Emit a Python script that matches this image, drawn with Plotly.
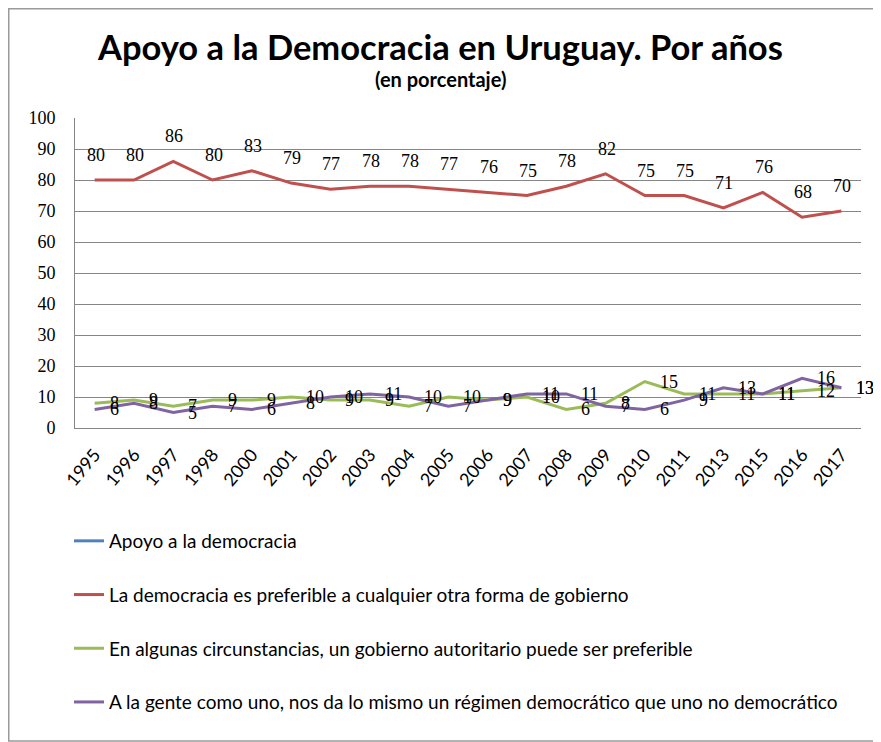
import plotly.graph_objects as go

years = ["1995", "1996", "1997", "1998", "2000", "2001", "2002", "2003", "2004", "2005",
         "2006", "2007", "2008", "2009", "2010", "2011", "2013", "2015", "2016", "2017"]
apoyo = [None] * len(years)
preferible = [80, 80, 86, 80, 83, 79, 77, 78, 78, 77, 76, 75, 78, 82, 75, 75, 71, 76, 68, 70]
autoritario = [8, 9, 7, 9, 9, 10, 9, 9, 7, 10, 9, 10, 6, 8, 15, 11, 11, 11, 12, 13]
da_lo_mismo = [6, 8, 5, 7, 6, 8, 10, 11, 10, 7, 9, 11, 11, 7, 6, 9, 13, 11, 16, 13]

names = ["Apoyo a la democracia",
         "La democracia es preferible a cualquier otra forma de gobierno",
         "En algunas circunstancias, un gobierno autoritario puede ser preferible",
         "A la gente como uno, nos da lo mismo un régimen democrático que uno no democrático"]
colors = ["#4F81BD", "#C0504D", "#9BBB59", "#8064A2"]
SANS = "Lato, Calibri, sans-serif"
SERIF = "Liberation Serif, Times New Roman, serif"

W, H = 881, 742
L, R, T, B = 67, 28, 110, 322
pw, ph = W - L - R, H - T - B

fig = go.Figure()
series = [apoyo, preferible, autoritario, da_lo_mismo]
for i, (ys, nm, col) in enumerate(zip(series, names, colors)):
    fig.add_trace(go.Scatter(x=years, y=ys, name=nm, legendgroup=str(i), mode="lines",
                             line=dict(color=col, width=3), cliponaxis=False))

# data labels (category axis: annotation x uses the category index)
for idx, v in enumerate(preferible):
    fig.add_annotation(x=idx, y=v, text=str(v), showarrow=False, xanchor="center",
                       yanchor="middle", yshift=25, xshift=1,
                       font=dict(family=SERIF, size=18, color="#000000"))
for ys in (autoritario, da_lo_mismo):
    for idx, v in enumerate(ys):
        fig.add_annotation(x=idx, y=v, text=str(v), showarrow=False, xanchor="left",
                           yanchor="middle", xshift=13,
                           font=dict(family=SERIF, size=18, color="#000000"))

fx = lambda px: (px - L) / pw
fy = lambda py: (H - B - py) / ph

fig.add_shape(type="rect", xref="paper", yref="paper",
              x0=fx(0.75), x1=fx(867), y0=fy(733), y1=fy(0.75),
              line=dict(color="#9a9a9a", width=1.5), fillcolor="rgba(0,0,0,0)", layer="below")

fig.add_annotation(text="<b>Apoyo a la Democracia en Uruguay. Por años</b>",
                   xref="paper", yref="paper", x=fx(432), y=fy(38), showarrow=False,
                   font=dict(family=SANS, size=34.5, color="#000000"), xanchor="center", yanchor="middle")
fig.add_annotation(text="<b>(en porcentaje)</b>",
                   xref="paper", yref="paper", x=fx(432), y=fy(71), showarrow=False,
                   font=dict(family=SANS, size=20, color="#000000"), xanchor="center", yanchor="middle")

fig.update_layout(
    width=W, height=H,
    margin=dict(l=L, r=R, t=T, b=B, autoexpand=False),
    paper_bgcolor="white", plot_bgcolor="white",
    font=dict(family=SANS, size=16, color="#000000"),
    showlegend=True,
    legend=dict(x=fx(61), y=fy(514), xanchor="left", yanchor="top",
                orientation="v", tracegroupgap=26, font=dict(family=SANS, size=19),
                bgcolor="rgba(0,0,0,0)"),
)
fig.update_xaxes(type="category", tickangle=-50, showgrid=False, showline=True,
                 linecolor="#868686", linewidth=1, ticks="", tickfont=dict(family=SANS, size=18),
                 ticklabelstandoff=8,
                 range=[-0.5, len(years) - 0.5], automargin=False)
fig.update_yaxes(range=[0, 100], dtick=10, showgrid=True, gridcolor="#868686", gridwidth=1,
                 showline=True, linecolor="#868686", linewidth=1, ticks="", zeroline=False,
                 ticklabelstandoff=15, automargin=False,
                 tickfont=dict(family=SERIF, size=18))

fig.write_html("out.html")
